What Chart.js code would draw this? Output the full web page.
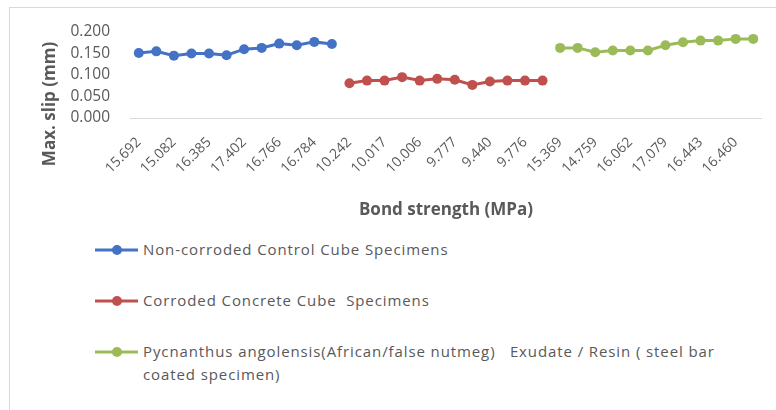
<!DOCTYPE html>
<html>
<head>
<meta charset="utf-8">
<script src="https://cdn.jsdelivr.net/npm/chart.js@4"></script>
<style>
  body{ margin:0; background:#fff; font-family:"Open Sans", sans-serif; }
  #wrap{ position:relative; width:776px; height:410px; overflow:hidden; }
  #frame{ position:absolute; left:9px; top:7px; right:0; bottom:-2px; border-left:1px solid #d9d9d9; border-top:1px solid #d9d9d9; }
  #chart{ position:absolute; left:0; top:0; }
  #legend{ position:absolute; left:95px; top:238px; }
  .item{ display:flex; align-items:flex-start; margin-bottom:28px; }
  .item svg{ flex:none; margin-top:4px; }
  .item span{ margin-left:5px; font-size:15px; line-height:23px; color:#595959; white-space:pre-wrap; width:592px; letter-spacing:0.9px; }
</style>
</head>
<body>
<div id="wrap">
  <div id="frame"></div>
  <canvas id="chart" width="776" height="232"></canvas>
  <div id="legend"></div>
</div>
<script>
// bond strength labels shown on the axis (every other category)
const bondLabels = ["15.692","15.082","16.385","17.402","16.766","16.784",
                    "10.242","10.017","10.006","9.777","9.440","9.776",
                    "15.369","14.759","16.062","17.079","16.443","16.460"];

// max slip (mm) for each group, 12 specimens each
const controlSlip  = [0.151,0.155,0.145,0.150,0.150,0.146,0.160,0.163,0.173,0.169,0.177,0.172];
const corrodedSlip = [0.081,0.087,0.087,0.095,0.087,0.091,0.089,0.077,0.085,0.087,0.087,0.087];
const coatedSlip   = [0.163,0.163,0.153,0.157,0.157,0.157,0.169,0.176,0.180,0.180,0.184,0.184];

const seriesNames = [
    "Non-corroded Control Cube Specimens",
    "Corroded Concrete Cube  Specimens",
    "Pycnanthus angolensis(African/false nutmeg)   Exudate / Resin ( steel bar coated specimen)"
];
const seriesColors = ["#4472c4","#c0504d","#9bbb59"];

const yTicks = [0, 0.05, 0.1, 0.15, 0.2];

// build the category axis: a label on every other point
const categories = [];
bondLabels.forEach(l=>{ categories.push(l); categories.push(""); });

const groups = [controlSlip, corrodedSlip, coatedSlip];
const total = groups.reduce((s,g)=> s + g.length, 0);
let offset = 0;
const datasets = groups.map((g,i)=>{
    const data = new Array(total).fill(null);
    g.forEach((v,j)=> data[offset + j] = v);
    offset += g.length;
    return {
        label: seriesNames[i], data,
        borderColor: seriesColors[i], backgroundColor: seriesColors[i],
        borderWidth: 3, pointRadius: 5, pointHoverRadius: 5,
        pointBorderWidth: 0, tension: 0, spanGaps: false
    };
});

const textColor = "#595959";
const fam = "'Open Sans', sans-serif";

// y axis title drawn off-centre like the original
const yTitle = {
    id: "yTitle",
    afterDraw(chart){
        const c = chart.ctx;
        c.save();
        c.translate(50, 104);
        c.rotate(-Math.PI/2);
        c.font = "bold 17px " + fam;
        c.fillStyle = textColor;
        c.textAlign = "center";
        c.textBaseline = "middle";
        c.fillText("Max. slip (mm)", 0, 0);
        c.restore();
    }
};

new Chart(document.getElementById("chart"), {
    type: "line",
    data: { labels: categories, datasets },
    options: {
        responsive: false, animation: false,
        layout: { padding: { left: 0, right: 14, top: 32, bottom: 0 } },
        plugins: { legend: { display: false }, tooltip: { enabled: false } },
        scales: {
            x: {
                offset: true,
                grid: { display: false }, border: { display: false },
                ticks: {
                    autoSkip: false, minRotation: 45, maxRotation: 45,
                    color: textColor, padding: 8,
                    font: { family: fam, size: 14 }
                },
                title: {
                    display: true, text: "Bond strength (MPa)", color: textColor,
                    font: { family: fam, size: 17, weight: "bold" },
                    padding: { top: 0, bottom: 12 }
                },
                afterFit(s){ s.height = 232 - 118; }
            },
            y: {
                min: yTicks[0], max: yTicks[yTicks.length-1],
                afterBuildTicks(s){ s.ticks = yTicks.map(v=>({ value: v })); },
                grid: {
                    drawTicks: false,
                    color: c=> c.tick && c.tick.value === 0 ? "#d9d9d9" : "rgba(0,0,0,0)"
                },
                border: { display: false },
                ticks: {
                    autoSkip: false,
                    color: textColor, padding: 20,
                    font: { family: fam, size: 15.5 },
                    callback: v=> Number(v).toFixed(3)
                },
                afterFit(s){ s.width = 130; }
            }
        }
    },
    plugins: [yTitle]
});

// legend as a vertical list under the chart
const legendEl = document.getElementById("legend");
seriesNames.forEach((name,i)=>{
    const div = document.createElement("div");
    div.className = "item";
    div.innerHTML = `
        <svg width="43" height="16"><line x1="0" y1="8" x2="43" y2="8" stroke="${seriesColors[i]}" stroke-width="3"/>
        <circle cx="22" cy="8" r="5" fill="${seriesColors[i]}"/></svg>
        <span></span>`;
    div.querySelector("span").textContent = name;
    legendEl.appendChild(div);
});
</script>
</body>
</html>
